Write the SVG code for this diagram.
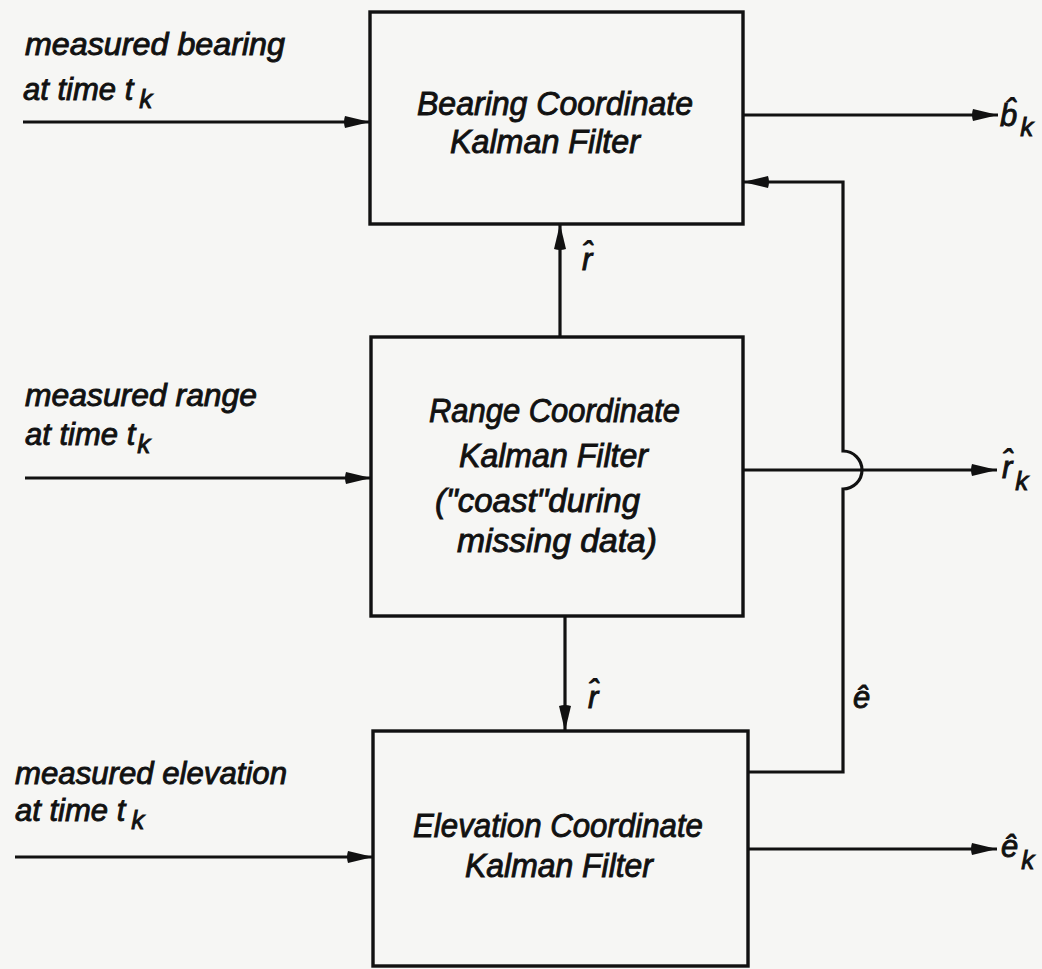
<svg xmlns="http://www.w3.org/2000/svg" width="1042" height="969" viewBox="0 0 1042 969">
<style>
.box{fill:none;stroke:#111;stroke-width:3.4}
.ln{fill:none;stroke:#111;stroke-width:3.2}
.t{font-family:"Liberation Sans",Arial,sans-serif;font-style:italic;fill:#111;stroke:#111;stroke-width:0.9;font-size:33px}
.lbl{font-family:"Liberation Sans",Arial,sans-serif;font-style:italic;fill:#111;stroke:#111;stroke-width:0.9;font-size:31px}
.sub{font-size:26px}
</style>
<defs>
<marker id="arr" markerUnits="userSpaceOnUse" markerWidth="28" markerHeight="16" refX="26" refY="8" orient="auto">
<path d="M1,2 Q-1,8 1,14 L26,8 z" fill="#111"/>
</marker>
</defs>
<rect width="1042" height="969" fill="#f6f6f4"/>

<g id="bearing-filter">
<rect class="box" x="370" y="12" width="373" height="212"/>
<text class="t" x="417" y="115" textLength="276" lengthAdjust="spacingAndGlyphs">Bearing Coordinate</text>
<text class="t" x="450" y="153" textLength="190" lengthAdjust="spacingAndGlyphs">Kalman Filter</text>
</g>

<g id="range-filter">
<rect class="box" x="371" y="337" width="372" height="279"/>
<text class="t" x="429" y="422" textLength="251" lengthAdjust="spacingAndGlyphs">Range Coordinate</text>
<text class="t" x="459" y="467" textLength="189" lengthAdjust="spacingAndGlyphs">Kalman Filter</text>
<text class="t" x="435" y="512" textLength="205" lengthAdjust="spacingAndGlyphs">("coast"during</text>
<text class="t" x="457" y="552" textLength="200" lengthAdjust="spacingAndGlyphs">missing data)</text>
</g>

<g id="elevation-filter">
<rect class="box" x="373" y="731" width="375" height="235"/>
<text class="t" x="413" y="837" textLength="290" lengthAdjust="spacingAndGlyphs">Elevation Coordinate</text>
<text class="t" x="465" y="877" textLength="188" lengthAdjust="spacingAndGlyphs">Kalman Filter</text>
</g>

<g id="input-labels">
<text class="lbl" x="25" y="55" textLength="260" lengthAdjust="spacingAndGlyphs">measured bearing</text>
<text class="lbl" x="23" y="100">at time t<tspan class="sub" dx="6" dy="8">k</tspan></text>
<text class="lbl" x="25" y="406" textLength="232" lengthAdjust="spacingAndGlyphs">measured range</text>
<text class="lbl" x="25" y="445">at time t<tspan class="sub" dx="2" dy="8">k</tspan></text>
<text class="lbl" x="15" y="784" textLength="272" lengthAdjust="spacingAndGlyphs">measured elevation</text>
<text class="lbl" x="15" y="821">at time t<tspan class="sub" dx="6" dy="8">k</tspan></text>
</g>

<g id="output-labels">
<text class="lbl" x="1000" y="126">b̂<tspan class="sub" dx="3" dy="10">k</tspan></text>
<text class="lbl" x="1002" y="478">r̂<tspan class="sub" dx="3" dy="12">k</tspan></text>
<text class="lbl" x="1001" y="857">ê<tspan class="sub" dx="3" dy="12">k</tspan></text>
<text class="lbl" x="582" y="270">r̂</text>
<text class="lbl" x="588" y="708">r̂</text>
<text class="lbl" x="853" y="708">ê</text>
</g>

<g id="connectors">
<line class="ln" x1="23" y1="122" x2="370" y2="122" marker-end="url(#arr)"/>
<line class="ln" x1="25" y1="478" x2="371" y2="478" marker-end="url(#arr)"/>
<line class="ln" x1="15" y1="857" x2="373" y2="857" marker-end="url(#arr)"/>
<line class="ln" x1="743" y1="115" x2="998" y2="115" marker-end="url(#arr)"/>
<line class="ln" x1="743" y1="470" x2="997" y2="470" marker-end="url(#arr)"/>
<line class="ln" x1="748" y1="849" x2="997" y2="849" marker-end="url(#arr)"/>
<line class="ln" x1="560" y1="337" x2="560" y2="224" marker-end="url(#arr)"/>
<line class="ln" x1="565" y1="616" x2="565" y2="731" marker-end="url(#arr)"/>
<path class="ln" d="M748,772 H843 V489 A19,19 0 0 0 843,451 V182 H743" marker-end="url(#arr)"/>
</g>
</svg>
